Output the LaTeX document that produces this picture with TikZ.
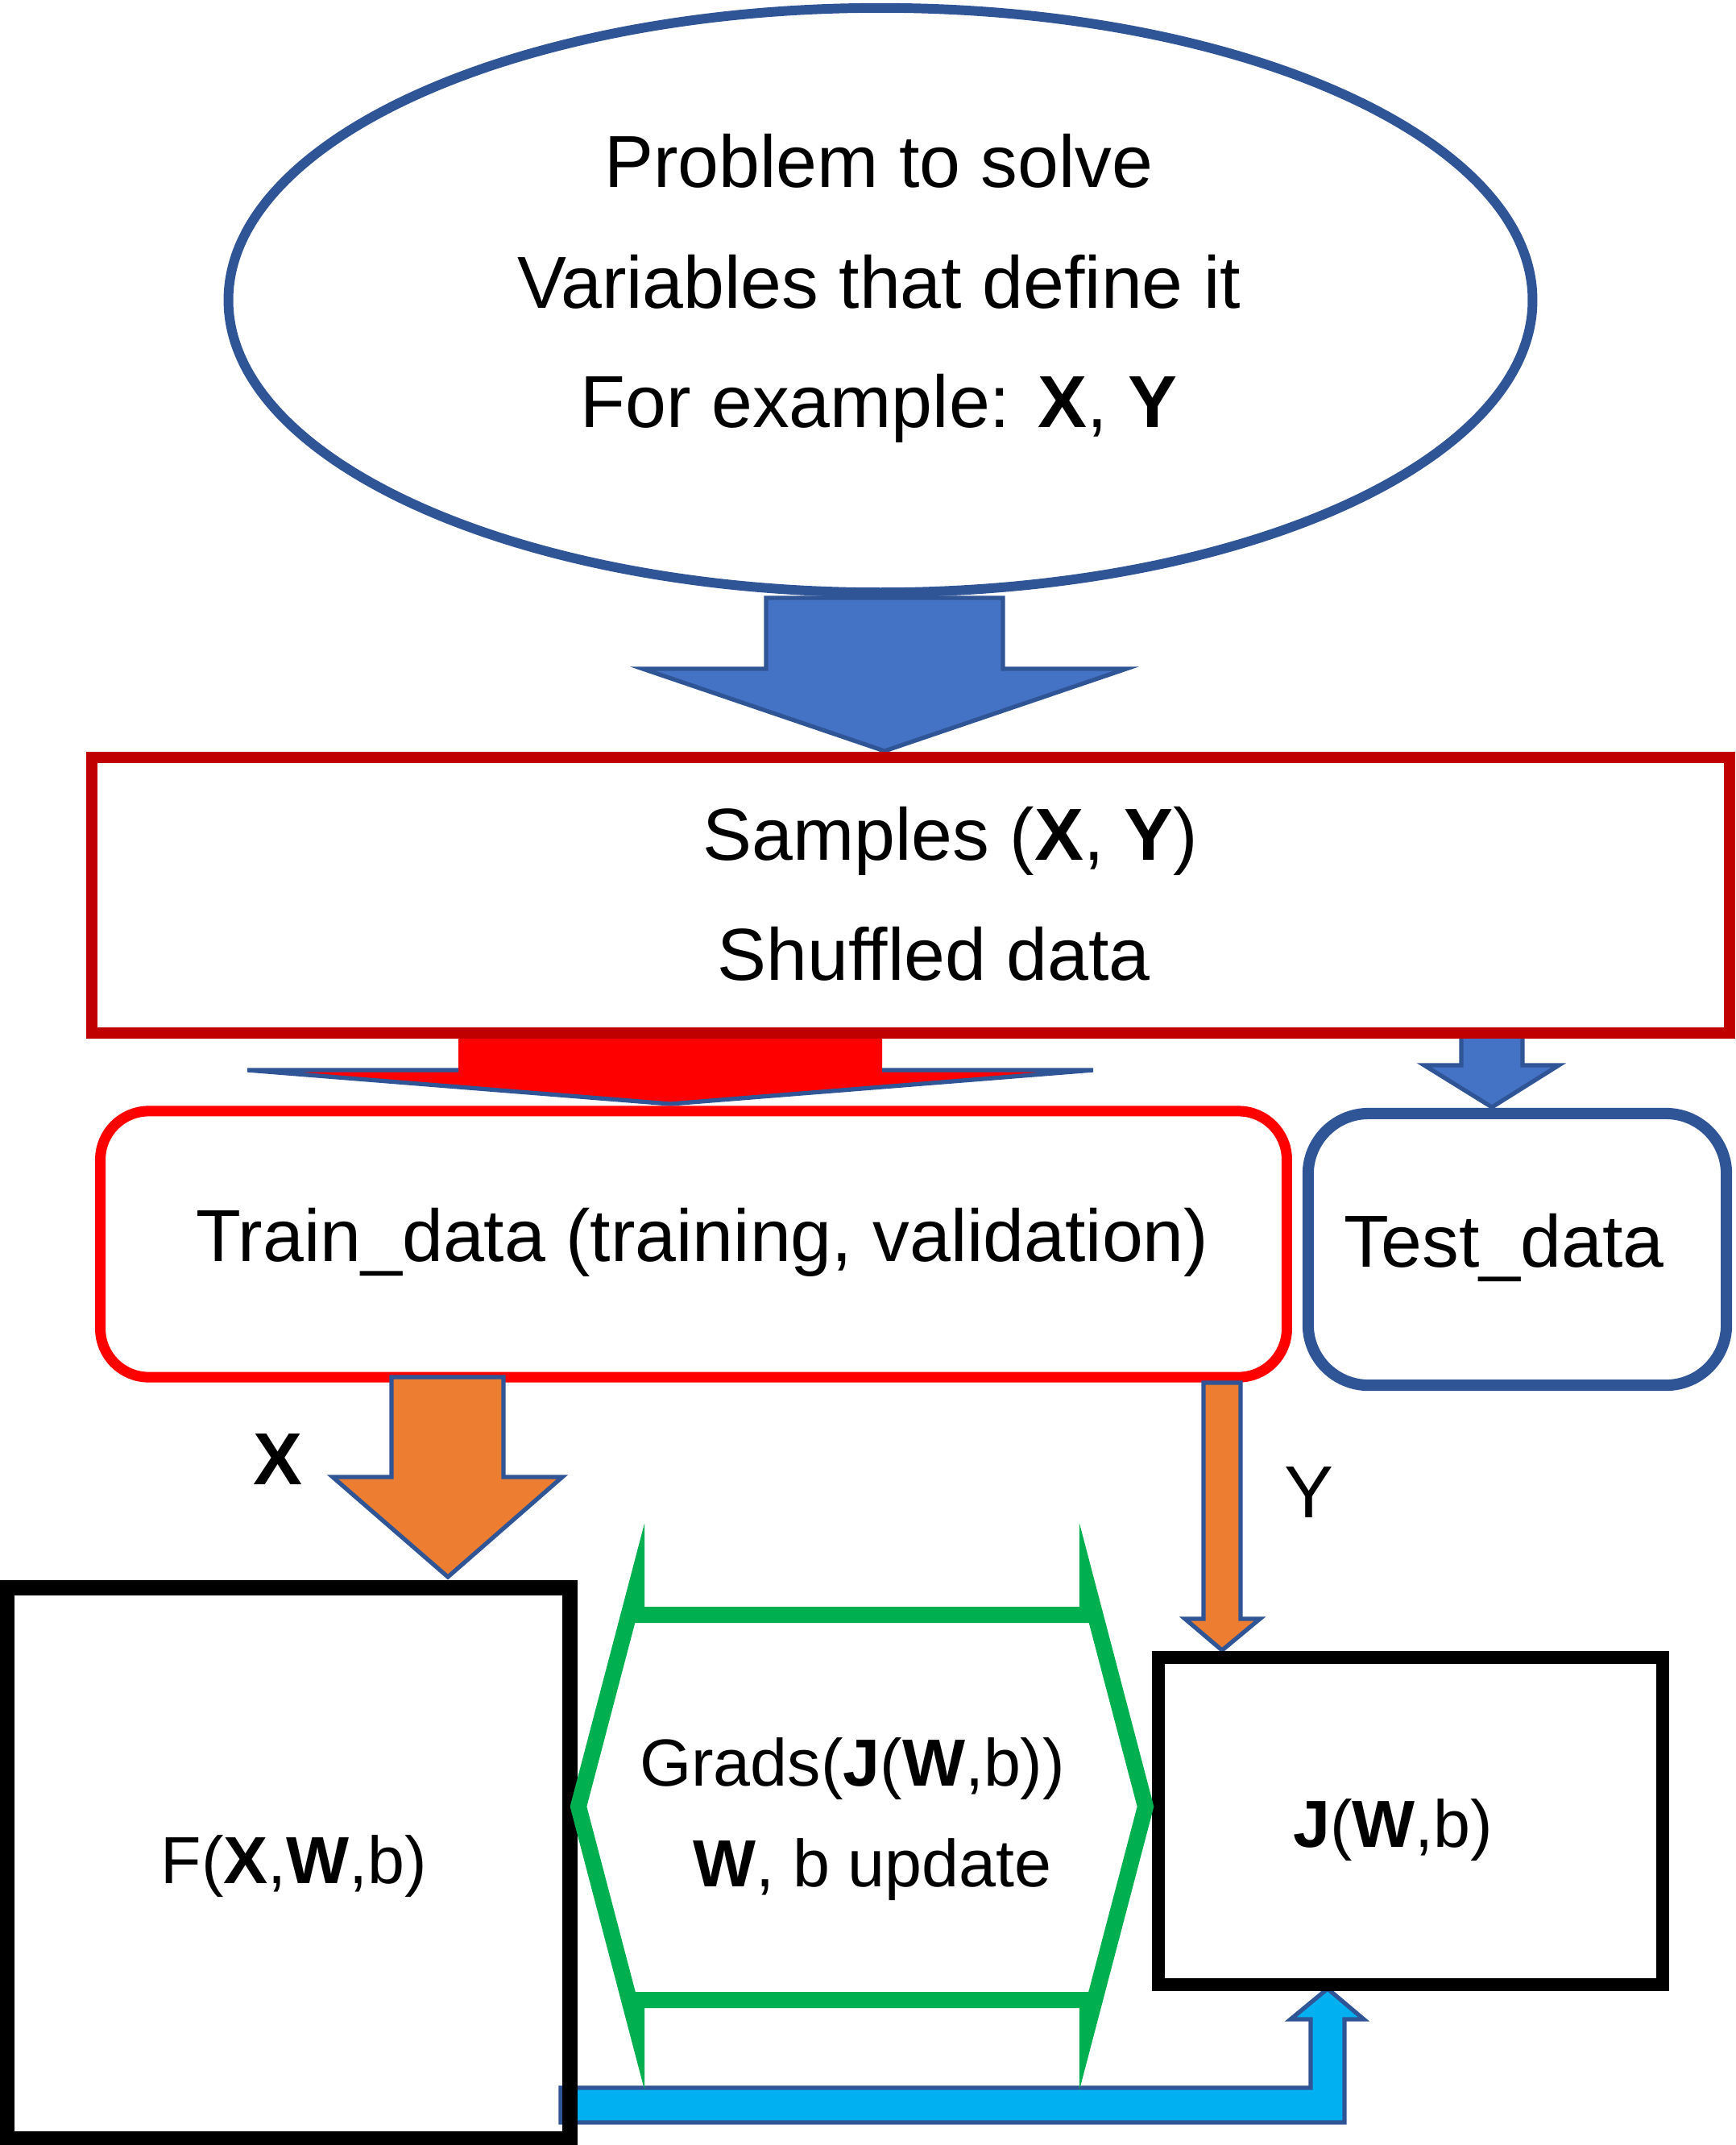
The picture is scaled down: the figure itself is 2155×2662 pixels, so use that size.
\documentclass[tikz,border=0pt]{standalone}
\usepackage{fontspec}
\setmainfont{Liberation Sans}
\usetikzlibrary{shapes.geometric}
\definecolor{dblue}{HTML}{2F5597}
\definecolor{ablue}{HTML}{4472C4}
\definecolor{dred}{HTML}{C00000}
\definecolor{bred}{HTML}{FF0000}
\definecolor{borange}{HTML}{ED7D31}
\definecolor{bgreen}{HTML}{00B050}
\definecolor{bcyan}{HTML}{00B0F0}
\begin{document}
\begin{tikzpicture}[x=0.01cm,y=-0.01cm,
  bigtxt/.style={anchor=base, inner sep=0pt, font=\fontsize{26}{31}\selectfont},
  smalltxt/.style={anchor=base, inner sep=0pt, font=\fontsize{23.5}{28}\selectfont},
  shapebox/.style={rectangle, inner sep=0pt, outer sep=0pt},
  blockarrow/.style={draw=dblue, line width=1.5pt, line join=miter}]
\useasboundingbox (0,0) rectangle (2155,2662);

% ellipse
\node[ellipse, draw=dblue, line width=3.4pt, minimum width=16.18cm, minimum height=7.25cm, inner sep=0pt] (prob) at (1093,372.5) {};
\node[bigtxt] (t1) at (1091,232) {Problem to solve};
\node[bigtxt] (t2) at (1091,382) {Variables that define it};
\node[bigtxt] (t3) at (1091,530) {For example: \textbf{X}, \textbf{Y}};

% big blue arrow
\draw[blockarrow, fill=ablue] (951,742) -- (1245,742) -- (1245,830) -- (1398,830) -- (1098,932) -- (798,830) -- (951,830) -- cycle;

% red arrow and small blue arrow (under samples box)
\fill[bred] (569,1282) -- (1095,1282) -- (1095,1328) -- (1357,1328) -- (832,1370) -- (307,1328) -- (569,1328) -- cycle;
\draw[blockarrow] (569,1328) -- (307,1328) -- (832,1370) -- (1357,1328) -- (1095,1328);
\draw[blockarrow, fill=ablue] (1814,1283) -- (1890,1283) -- (1890,1322) -- (1935,1322) -- (1852,1374) -- (1768,1322) -- (1814,1322) -- cycle;

% samples box
\node[shapebox, draw=dred, line width=4pt, minimum width=20.31cm, minimum height=3.42cm] (samples) at (1130.5,1111) {};
\node[bigtxt] (s1) at (1180,1067) {Samples (\textbf{X}, \textbf{Y})};
\node[bigtxt] (s2) at (1159,1216) {Shuffled data};

% train / test boxes
\node[shapebox, draw=bred, line width=3.7pt, rounded corners=0.6cm, minimum width=14.72cm, minimum height=3.30cm] (train) at (861,1544) {};
\node[bigtxt] (trtxt) at (872,1565) {Train\_data (training, validation)};
\node[shapebox, draw=dblue, line width=4pt, rounded corners=0.75cm, minimum width=5.19cm, minimum height=3.37cm] (test) at (1883.5,1550.5) {};
\node[bigtxt] (tetxt) at (1867,1572) {Test\_data};

% orange arrows
\draw[blockarrow, fill=borange] (486,1709) -- (625,1709) -- (625,1833) -- (698,1833) -- (556,1957) -- (413,1833) -- (486,1833) -- cycle;
\node[bigtxt, font=\fontsize{26}{31}\selectfont\bfseries] (xl) at (345,1842) {X};
\draw[blockarrow, fill=borange] (1494,1716) -- (1540,1716) -- (1540,2009) -- (1564,2009) -- (1517,2048) -- (1471,2009) -- (1494,2009) -- cycle;
\node[bigtxt] (yl) at (1625,1883) {Y};

% cyan elbow arrow
\draw[blockarrow, fill=bcyan] (696,2634) -- (1669,2634) -- (1669,2506) -- (1693,2506) -- (1648,2468) -- (1602,2506) -- (1627,2506) -- (1627,2591) -- (696,2591) -- cycle;

% F and J boxes
\node[shapebox, draw=black, line width=5.4pt, minimum width=6.98cm, minimum height=6.83cm] (fbox) at (358,2312.5) {};
\node[smalltxt] (ftxt) at (365,2337) {F(\textbf{X},\textbf{W},b)};
\node[shapebox, draw=black, line width=4.5pt, minimum width=6.26cm, minimum height=4.06cm] (jbox) at (1751,2260) {};
\node[smalltxt] (jtxt) at (1729,2292) {\textbf{J}(\textbf{W},b)};

% green double arrow
\draw[bgreen, line width=5.7pt, line join=miter, miter limit=10]
  (718,2242) -- (790,1968) -- (790,2004) -- (1350,2004) -- (1350,1968) -- (1422,2242)
  -- (1350,2516) -- (1350,2482) -- (790,2482) -- (790,2516) -- cycle;
\node[smalltxt] (g1) at (1058,2216) {Grads(\textbf{J}(\textbf{W},b))};
\node[smalltxt] (g2) at (1083,2341) {\textbf{W}, b update};
\end{tikzpicture}
\end{document}
